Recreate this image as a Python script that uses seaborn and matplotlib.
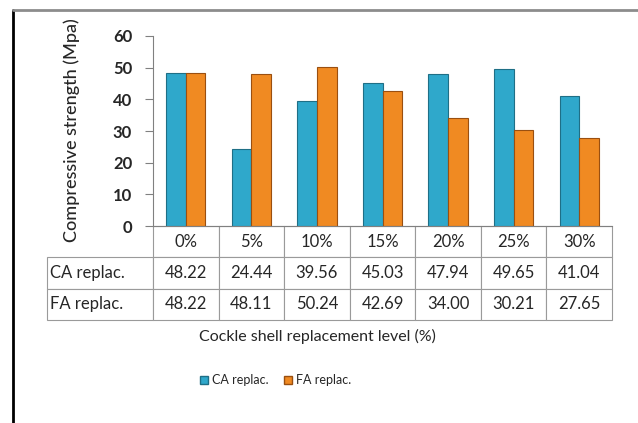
import matplotlib
matplotlib.use("Agg")
import matplotlib.pyplot as plt
import seaborn as sns
import pandas as pd
from matplotlib.lines import Line2D

levels = ["0%", "5%", "10%", "15%", "20%", "25%", "30%"]
ca_values = [48.22, 24.44, 39.56, 45.03, 47.94, 49.65, 41.04]
fa_values = [48.22, 48.11, 50.24, 42.69, 34.00, 30.21, 27.65]
series_names = ["CA replac.", "FA replac."]
yticks = [0, 10, 20, 30, 40, 50, 60]

df = pd.DataFrame({
    "level": levels * 2,
    "value": ca_values + fa_values,
    "series": [series_names[0]] * len(levels) + [series_names[1]] * len(levels),
})

sns.set_theme(style="white")
plt.rcParams["font.family"] = ["Lato", "DejaVu Sans"]

W, H = 638, 423
fig = plt.figure(figsize=(W / 100, H / 100), dpi=100)
L, R, T, B = 153, 612, 36, 226
ax = fig.add_axes([L / W, 1 - B / H, (R - L) / W, (B - T) / H])

colors = {"CA replac.": "#2FA8CB", "FA replac.": "#F08A22"}
edges = {"CA replac.": "#1F6F86", "FA replac.": "#9A4F10"}
sns.barplot(data=df, x="level", y="value", hue="series", palette=colors,
            width=0.6, ax=ax, legend=False, saturation=1)
for cont, name in zip(ax.containers, series_names):
    for p in cont:
        p.set_edgecolor(edges[name])
        p.set_linewidth(0.8)

ax.set_ylim(0, 60)
ax.set_xlim(-0.5, len(levels) - 0.5)
ax.set_yticks(yticks)
ax.set_yticklabels([str(v) for v in yticks], fontsize=12, fontweight="bold")
ax.tick_params(axis="y", which="both", left=True, length=6, width=0.8, color="#808080", pad=9)
ax.tick_params(axis="x", bottom=False, labelbottom=False)
ax.set_xlabel("")
ax.set_ylabel("Compressive strength (Mpa)", fontsize=13, fontweight="medium")
ax.yaxis.set_label_coords((80 - L) / (R - L), (B - 130) / (B - T))
for s in ["top", "right"]:
    ax.spines[s].set_visible(False)
for s in ["left", "bottom"]:
    ax.spines[s].set_color("#808080")
    ax.spines[s].set_linewidth(0.8)

# data table below the axes; data columns span the axes width, row labels to the left
cell_text = [[f"{v:.2f}" for v in ca_values], [f"{v:.2f}" for v in fa_values]]
tx0, ty1 = 47, 320
ax_w, ax_h = R - L, B - T
tbl = ax.table(cellText=cell_text, rowLabels=series_names, colLabels=levels,
               cellLoc="center", rowLoc="left", loc="bottom")
tbl._autoColumns = []
tbl.AXESPAD = 0
tbl.auto_set_font_size(False)
colw = 1 / len(levels)
labw = (L - tx0) / ax_w
rowh = (ty1 - B) / ax_h / 3
for (r, c), cell in tbl.get_celld().items():
    cell.set_edgecolor("#9A9A9A")
    cell.set_linewidth(0.8)
    cell.get_text().set_fontsize(12)
    cell.PAD = 0.03
    cell.set_width(labw if c == -1 else colw)
    cell.set_height(rowh)

fig.text(317 / W, 1 - 336 / H, "Cockle shell replacement level (%)", ha="center", va="center", fontsize=11.5)

handles = [Line2D([], [], marker="s", linestyle="", markersize=6,
                  markerfacecolor=colors[n], markeredgecolor=edges[n]) for n in series_names]
fig.legend(handles, series_names, loc="center", bbox_to_anchor=(275 / W, 1 - 380 / H),
           ncol=2, frameon=False, fontsize=9, handletextpad=0.2, columnspacing=1.2,
           handlelength=0.8)

# outer frame lines
fig.add_artist(Line2D([13 / W, 13 / W], [0, 1 - 10 / H], color="#000000", linewidth=2.0,
                      transform=fig.transFigure))
fig.add_artist(Line2D([13 / W, 1], [1 - 10 / H, 1 - 10 / H], color="#8C8C8C", linewidth=2.0,
                      transform=fig.transFigure))

fig.savefig("out.png", dpi=100)
